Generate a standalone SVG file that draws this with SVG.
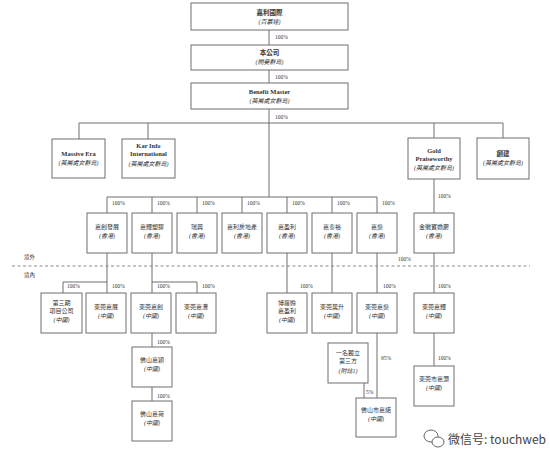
<svg xmlns="http://www.w3.org/2000/svg" width="550" height="455" viewBox="0 0 550 455">
<style>
.b{fill:#fff;stroke:#6f6f6f;stroke-width:1}
.l{fill:none;stroke:#6f6f6f;stroke-width:1}
.d{fill:none;stroke:#8a8a8a;stroke-width:1;stroke-dasharray:3,2.5}
text{font-family:"Liberation Serif","Noto Sans CJK TC",serif;fill:#333;text-anchor:middle;font-size:6px}
.n{font-weight:bold;font-size:6.5px}
.i{font-style:italic}
.p{text-anchor:start;font-size:5.5px}
.w{font-family:"Noto Sans CJK SC","Liberation Sans",sans-serif;font-size:12px;text-anchor:start;fill:#444}
</style>
<rect width="550" height="455" fill="#fff"/>
<g id="connectors">
<path class="l" d="M269 30V45M269 70V83M269 109V197"/>
<path class="l" d="M79 139V123H503V138M148 123V139M434 123V138"/>
<path class="l" d="M434 179V213"/>
<path class="l" d="M107 213V197H377V213M152 197V213M197 197V213M242 197V213M287 197V213M332 197V213"/>
<path class="l" d="M107 253V293M63 293V282H107"/>
<path class="l" d="M152 253V293M152 282H197V293"/>
<path class="l" d="M152 333V347M152 387V401"/>
<path class="l" d="M287 253V293M332 253V293M377 253V293M434 253V293"/>
<path class="l" d="M377 333V398M364 383V398M434 333V366"/>
<path class="d" d="M12 266H530"/>
</g>
<g>
<text class="p" x="275" y="39">100%</text>
<text class="p" x="275" y="79">100%</text>
<text class="p" x="275" y="119">100%</text>
<text class="p" x="438" y="198">100%</text>
<text class="p" x="112" y="205">100%</text>
<text class="p" x="157" y="205">100%</text>
<text class="p" x="202" y="205">100%</text>
<text class="p" x="247" y="205">100%</text>
<text class="p" x="292" y="205">100%</text>
<text class="p" x="337" y="205">100%</text>
<text class="p" x="382" y="205">100%</text>
<text class="p" x="398" y="261">100%</text>
<text class="p" x="67" y="288">100%</text>
<text class="p" x="112" y="288">100%</text>
<text class="p" x="157" y="288">100%</text>
<text class="p" x="202" y="288">100%</text>
<text class="p" x="300" y="288">100%</text>
<text class="p" x="383" y="288">100%</text>
<text class="p" x="438" y="288">100%</text>
<text class="p" x="157" y="344">100%</text>
<text class="p" x="157" y="398">100%</text>
<text class="p" x="381" y="360">95%</text>
<text class="p" x="366" y="394">5%</text>
<text class="p" x="438" y="360">100%</text>
<text class="p" x="24" y="259">境外</text>
<text class="p" x="24" y="277">境內</text>
</g>
<g id="n1"><rect class="b" x="191" y="3" width="157" height="27"/><text class="n" x="269.5" y="15">嘉利國際</text><text class="i" x="269.5" y="24">(百慕達)</text></g>
<g id="n2"><rect class="b" x="191" y="45" width="157" height="25"/><text class="n" x="269.5" y="55">本公司</text><text class="i" x="269.5" y="64">(開曼群島)</text></g>
<g id="n3"><rect class="b" x="191" y="83" width="157" height="26"/><text class="n" x="269.5" y="94">Benefit Master</text><text class="i" x="269.5" y="103">(英屬處女群島)</text></g>
<g id="n4"><rect class="b" x="52" y="139" width="53" height="39"/><text class="n" x="78.5" y="156">Massive Era</text><text class="i" x="78.5" y="165">(英屬處女群島)</text></g>
<g id="n5"><rect class="b" x="122" y="139" width="53" height="39"/><text class="n" x="148.5" y="148">Kar Info</text><text class="n" x="148.5" y="156">International</text><text class="i" x="148.5" y="166">(英屬處女群島)</text></g>
<g id="n6"><rect class="b" x="408" y="138" width="52" height="41"/><text class="n" x="434" y="153">Gold</text><text class="n" x="434" y="161">Praiseworthy</text><text class="i" x="434" y="170">(英屬處女群島)</text></g>
<g id="n7"><rect class="b" x="477" y="138" width="52" height="41"/><text class="n" x="503" y="156">創建</text><text class="i" x="503" y="165">(英屬處女群島)</text></g>
<g id="n8"><rect class="b" x="87" y="213" width="40" height="40"/><text x="107" y="229">嘉創發展</text><text class="i" x="107" y="238">(香港)</text></g>
<g id="n9"><rect class="b" x="132" y="213" width="40" height="40"/><text x="152" y="229">嘉輝塑膠</text><text class="i" x="152" y="238">(香港)</text></g>
<g id="n10"><rect class="b" x="177" y="213" width="40" height="40"/><text x="197" y="229">瑞興</text><text class="i" x="197" y="238">(香港)</text></g>
<g id="n11"><rect class="b" x="222" y="213" width="40" height="40"/><text x="242" y="229">嘉利房地產</text><text class="i" x="242" y="238">(香港)</text></g>
<g id="n12"><rect class="b" x="267" y="213" width="40" height="40"/><text x="287" y="229">嘉盈利</text><text class="i" x="287" y="238">(香港)</text></g>
<g id="n13"><rect class="b" x="312" y="213" width="40" height="40"/><text x="332" y="229">嘉泰裕</text><text class="i" x="332" y="238">(香港)</text></g>
<g id="n14"><rect class="b" x="357" y="213" width="40" height="40"/><text x="377" y="229">嘉燊</text><text class="i" x="377" y="238">(香港)</text></g>
<g id="n15"><rect class="b" x="414" y="213" width="40" height="40"/><text x="434" y="229">金徽寶婚慶</text><text class="i" x="434" y="238">(香港)</text></g>
<g id="n16"><rect class="b" x="41" y="293" width="41" height="40"/><text x="61.5" y="305">第三期</text><text x="61.5" y="313">項目公司</text><text class="i" x="61.5" y="322">(中國)</text></g>
<g id="n17"><rect class="b" x="86" y="293" width="40" height="40"/><text x="106" y="309">東莞嘉展</text><text class="i" x="106" y="318">(中國)</text></g>
<g id="n18"><rect class="b" x="131" y="293" width="40" height="40"/><text x="151" y="309">東莞嘉創</text><text class="i" x="151" y="318">(中國)</text></g>
<g id="n19"><rect class="b" x="176" y="293" width="40" height="40"/><text x="196" y="309">東莞嘉灃</text><text class="i" x="196" y="318">(中國)</text></g>
<g id="n20"><rect class="b" x="132" y="347" width="40" height="40"/><text x="152" y="362">佛山嘉穎</text><text class="i" x="152" y="371">(中國)</text></g>
<g id="n21"><rect class="b" x="132" y="401" width="40" height="40"/><text x="152" y="416">佛山嘉荷</text><text class="i" x="152" y="425">(中國)</text></g>
<g id="n22"><rect class="b" x="267" y="293" width="40" height="40"/><text x="287" y="305">博羅縣</text><text x="287" y="313">嘉盈利</text><text class="i" x="287" y="322">(中國)</text></g>
<g id="n23"><rect class="b" x="312" y="293" width="40" height="40"/><text x="332" y="309">東莞萬升</text><text class="i" x="332" y="318">(中國)</text></g>
<g id="n24"><rect class="b" x="357" y="293" width="40" height="40"/><text x="377" y="309">東莞嘉燊</text><text class="i" x="377" y="318">(中國)</text></g>
<g id="n25"><rect class="b" x="414" y="293" width="40" height="40"/><text x="434" y="309">東莞嘉輝</text><text class="i" x="434" y="318">(中國)</text></g>
<g id="n26"><rect class="b" x="328" y="343" width="40" height="40"/><text x="348" y="355">一名獨立</text><text x="348" y="363">第三方</text><text class="i" x="348" y="373">(附註1)</text></g>
<g id="n27"><rect class="b" x="356" y="398" width="40" height="39"/><text x="376" y="412">佛山市嘉諾</text><text class="i" x="376" y="421">(中國)</text></g>
<g id="n28"><rect class="b" x="414" y="366" width="40" height="40"/><text x="434" y="381">東莞市嘉灝</text><text class="i" x="434" y="390">(中國)</text></g>
<g id="watermark">
<ellipse cx="431" cy="436" rx="7" ry="6" fill="#fff" stroke="#666" stroke-width="1"/>
<ellipse cx="438" cy="442" rx="6" ry="5" fill="#fff" stroke="#666" stroke-width="1"/>
<text class="w" x="448" y="444">微信号: touchweb</text>
</g>
</svg>
